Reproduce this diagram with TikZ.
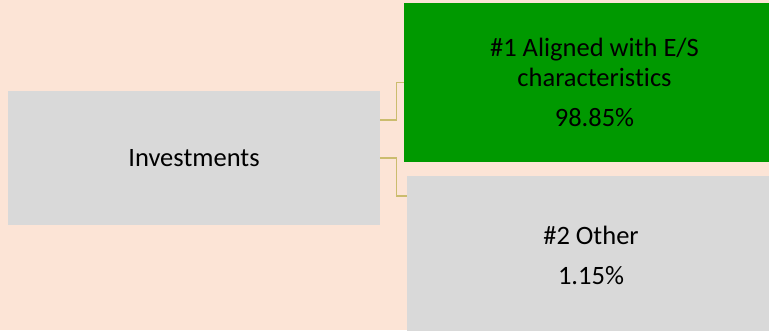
\documentclass[tikz,border=0pt]{standalone}
\usepackage{fontspec}
\setmainfont{Carlito}[Ligatures=NoCommon]
\usepackage{xcolor}
\usetikzlibrary{positioning}
\definecolor{bgpeach}{HTML}{FCE4D6}
\definecolor{boxgray}{HTML}{D9D9D9}
\definecolor{boxgreen}{HTML}{009900}
\definecolor{linktan}{HTML}{CBBC6E}

\begin{document}
\begin{tikzpicture}[x=1pt,y=1pt,
    every node/.style={inner sep=0pt,outer sep=0pt,align=center,font=\fontsize{26.5}{30}\selectfont},
    catbox/.style={draw=none,fill=boxgray},
    link/.style={draw=linktan,line width=1.6pt}]
    \fill[bgpeach] (0,0) rectangle (769,330);
    \useasboundingbox (0,0) rectangle (769,330);

    \node(inv)[catbox,minimum width=372pt,minimum height=134pt] at (194,172) {Investments};
    \node(aligned)[catbox,fill=boxgreen,minimum width=381pt,minimum height=159pt] at (594.5,247.5)
        {\#1 Aligned with E/S\\characteristics\\[10pt]98.85\%};
    \node(other)[catbox,minimum width=368pt,minimum height=158pt] at (591,75)
        {\#2 Other\\[10pt]1.15\%};

    \coordinate(j1) at ([yshift=38pt]inv.east);
    \coordinate(j2) at ([yshift=-20pt]other.north west);

    \path[link](j1) -- ++(16.5,0) |- (aligned.west);
    \path[link](inv.east) -- ++(16.5,0) |- (j2);

  \end{tikzpicture}
\end{document}
